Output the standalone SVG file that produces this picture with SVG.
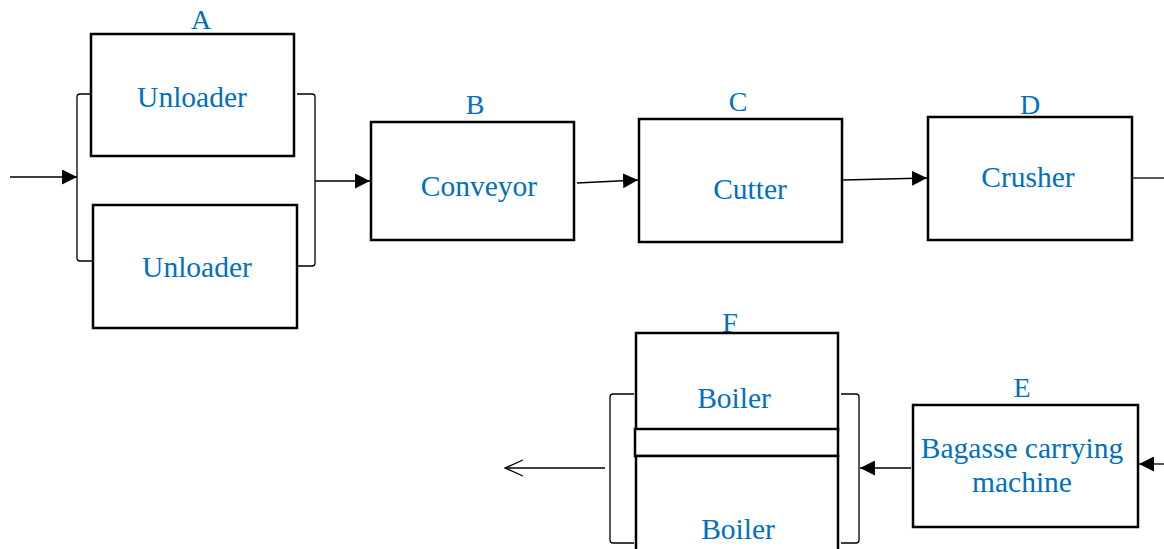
<svg xmlns="http://www.w3.org/2000/svg" width="1164" height="549" viewBox="0 0 1164 549">
<defs>
<marker id="ah" viewBox="0 0 10 10" refX="10" refY="5" markerWidth="15" markerHeight="15" markerUnits="userSpaceOnUse" orient="auto"><path d="M0,0 L10,5 L0,10 Z" fill="#000"/></marker>
<marker id="oh" viewBox="0 0 20 20" refX="19" refY="10" markerWidth="20" markerHeight="20" markerUnits="userSpaceOnUse" orient="auto"><path d="M1,2 L19,10 L1,18" fill="none" stroke="#000" stroke-width="1.3"/></marker>
<style>
.box{fill:#fff;stroke:#000;stroke-width:2.5}
.t{font-family:"Liberation Serif","Times New Roman",serif;font-size:29.5px;fill:#0070C0;text-anchor:middle}
.l{font-family:"Liberation Serif","Times New Roman",serif;font-size:28px;fill:#0070C0;text-anchor:middle}
.c{fill:none;stroke:#000;stroke-width:1.3}
</style>
</defs>
<rect width="1164" height="549" fill="#fff"/>
<g id="connectors">
<line class="c" x1="10" y1="177" x2="77" y2="177" marker-end="url(#ah)"/>
<path class="c" d="M91,94 H80 Q77,94 77,97 V258 Q77,261 80,261 H92"/>
<path class="c" d="M297,94 H312 Q315,94 315,97 V263 Q315,266 312,266 H298"/>
<line class="c" x1="315" y1="181" x2="370" y2="181" marker-end="url(#ah)"/>
<line class="c" x1="577" y1="183" x2="638" y2="180" marker-end="url(#ah)"/>
<line class="c" x1="843" y1="180" x2="927" y2="178" marker-end="url(#ah)"/>
<line class="c" x1="1133" y1="178" x2="1164" y2="178"/>
<line class="c" x1="1164" y1="464" x2="1139" y2="464" marker-end="url(#ah)"/>
<line class="c" x1="911" y1="468" x2="860" y2="468" marker-end="url(#ah)"/>
<path class="c" d="M841,394 H856 Q859,394 859,397 V540 Q859,543 856,543 H841"/>
<path class="c" d="M634,394 H613 Q610,394 610,397 V540 Q610,543 613,543 H634"/>
<line class="c" x1="605" y1="468" x2="505" y2="468" marker-end="url(#oh)"/>
</g>
<g id="A">
<text class="l" x="201" y="29">A</text>
<rect class="box" x="91" y="34" width="203" height="122"/>
<text class="t" x="192" y="107">Unloader</text>
</g>
<g id="A2">
<rect class="box" x="93" y="205" width="204" height="123"/>
<text class="t" x="197" y="277">Unloader</text>
</g>
<g id="B">
<text class="l" x="475" y="114">B</text>
<rect class="box" x="371" y="122" width="203" height="118"/>
<text class="t" x="479" y="196">Conveyor</text>
</g>
<g id="C">
<text class="l" x="738" y="111">C</text>
<rect class="box" x="639" y="119" width="203" height="123"/>
<text class="t" x="750" y="199">Cutter</text>
</g>
<g id="D">
<text class="l" x="1030" y="114">D</text>
<rect class="box" x="928" y="117" width="204" height="123"/>
<text class="t" x="1028" y="187">Crusher</text>
</g>
<g id="F">
<text class="l" x="730" y="332">F</text>
<rect class="box" x="636" y="333" width="202" height="97"/>
<text class="t" x="734" y="408">Boiler</text>
</g>
<g id="F-strip">
<rect class="box" x="635" y="429" width="203" height="27"/>
</g>
<g id="F2">
<rect class="box" x="636" y="456" width="202" height="100"/>
<text class="t" x="738" y="539">Boiler</text>
</g>
<g id="E">
<text class="l" x="1022" y="397">E</text>
<rect class="box" x="913" y="405" width="225" height="122"/>
<text class="t" x="1022" y="458">Bagasse carrying</text>
<text class="t" x="1022" y="492">machine</text>
</g>
</svg>
